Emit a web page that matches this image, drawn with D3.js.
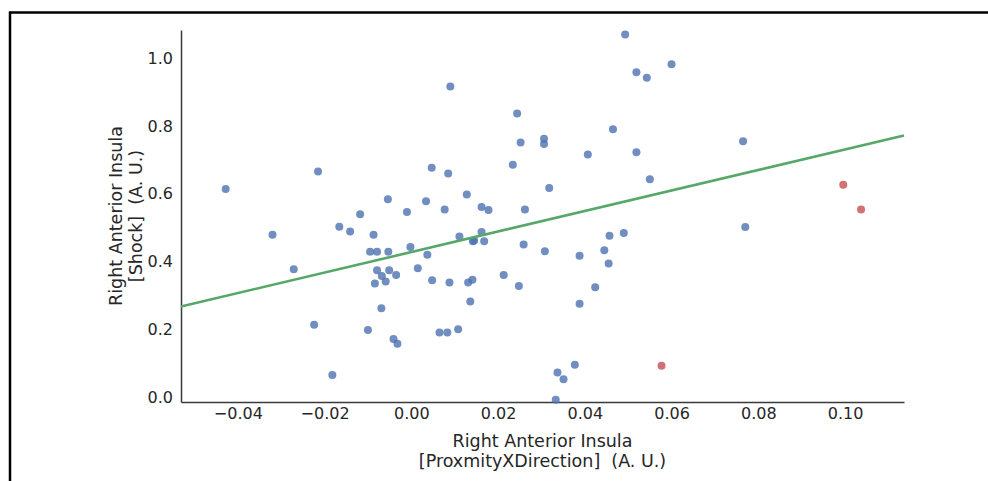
<!DOCTYPE html>
<html>
<head>
<meta charset="utf-8">
<script src="https://cdn.jsdelivr.net/npm/d3@7"></script>
<style>
  body { margin: 0; background: #fff; }
  svg { display: block; font-family: 'DejaVu Sans', sans-serif; }
  .label { white-space: pre; }
</style>
</head>
<body>
<div id="chart"></div>
<script>
// [x, y] pairs
var bluePoints = [
  [-0.0428, 0.614], [-0.0215, 0.666], [-0.0118, 0.540], [-0.0054, 0.584], [-0.0010, 0.546],
  [0.0493, 1.071], [0.0519, 0.959], [0.0543, 0.943], [0.0090, 0.917], [0.0244, 0.837],
  [0.0465, 0.791], [0.0252, 0.752], [0.0306, 0.763], [0.0306, 0.747], [0.0519, 0.723],
  [0.0407, 0.716], [0.0234, 0.686], [0.0047, 0.677], [0.0085, 0.660], [0.0550, 0.643],
  [0.0128, 0.598], [0.0318, 0.617], [0.0034, 0.578], [0.0077, 0.554], [0.0162, 0.561],
  [0.0178, 0.552], [0.0262, 0.554], [0.0600, 0.983], [0.0765, 0.755], [-0.0320, 0.479],
  [-0.0166, 0.503], [-0.0141, 0.489], [-0.0087, 0.479], [-0.0095, 0.429], [-0.0079, 0.429],
  [-0.0053, 0.429], [-0.0002, 0.443], [0.0015, 0.380], [-0.0271, 0.377], [-0.0079, 0.374],
  [-0.0051, 0.374], [-0.0068, 0.357], [-0.0035, 0.360], [-0.0059, 0.341], [-0.0084, 0.335],
  [-0.0069, 0.262], [-0.0224, 0.213], [-0.0100, 0.198], [-0.0041, 0.171], [-0.0032, 0.157],
  [-0.0182, 0.065], [0.0111, 0.474], [0.0162, 0.487], [0.0142, 0.460], [0.0145, 0.462],
  [0.0168, 0.460], [0.0259, 0.450], [0.0308, 0.430], [0.0388, 0.417], [0.0457, 0.476],
  [0.0490, 0.484], [0.0445, 0.433], [0.0455, 0.394], [0.0037, 0.420], [0.0048, 0.345],
  [0.0088, 0.338], [0.0131, 0.338], [0.0141, 0.346], [0.0213, 0.360], [0.0248, 0.328],
  [0.0424, 0.324], [0.0388, 0.275], [0.0136, 0.282], [0.0065, 0.190], [0.0083, 0.190],
  [0.0108, 0.200], [0.0377, 0.095], [0.0337, 0.072], [0.0351, 0.052], [0.0333, -0.008],
  [0.0770, 0.502]
];
var redPoints = [[0.0996, 0.627], [0.1037, 0.554], [0.0577, 0.092]];

// fitted line
var fitSlope = 3.03;
var fitIntercept = 0.428;

var xTicks = [-0.04, -0.02, 0.00, 0.02, 0.04, 0.06, 0.08, 0.10];
var yTicks = [0.0, 0.2, 0.4, 0.6, 0.8, 1.0];
var xDomain = [-0.0531, 0.1136];
var yDomain = [-0.015, 1.084];

var xLabel = ['Right Anterior Insula', '[ProxmityXDirection]  (A. U.)'];
var yLabel = ['Right Anterior Insula', '[Shock]  (A. U.)'];

var width = 988;
var height = 481;
var plot = { left: 181, right: 904, top: 30, bottom: 402 };
var textColor = '#262626';

var svg = d3
  .select('#chart')
  .append('svg')
  .attr('width', width)
  .attr('height', height);

// outer frame (only top and left edges show)
svg
  .append('rect')
  .attr('x', 10)
  .attr('y', 12.5)
  .attr('width', 1000)
  .attr('height', 500)
  .attr('fill', 'none')
  .attr('stroke', '#000')
  .attr('stroke-width', 2.5);

var x = d3.scaleLinear().domain(xDomain).range([plot.left, plot.right]);
var y = d3.scaleLinear().domain(yDomain).range([plot.bottom, plot.top]);

// axes, no tick marks
var xAxisGroup = svg
  .append('g')
  .attr('transform', 'translate(0,' + plot.bottom + ')')
  .call(d3.axisBottom(x).tickValues(xTicks).tickSize(0).tickPadding(6).tickFormat(d3.format('.2f')));
var yAxisGroup = svg
  .append('g')
  .attr('transform', 'translate(' + plot.left + ',0)')
  .call(d3.axisLeft(y).tickValues(yTicks).tickSize(0).tickPadding(8).tickFormat(d3.format('.1f')));

[xAxisGroup, yAxisGroup].forEach(function (g) {
  g.select('.domain').attr('stroke', '#3a3a3a').attr('stroke-width', 1.5);
  g.selectAll('text')
    .attr('fill', textColor)
    .style('font-size', '16px')
    .style('font-family', "'DejaVu Sans', sans-serif");
});

// points
svg
  .append('g')
  .selectAll('circle')
  .data(bluePoints)
  .enter()
  .append('circle')
  .attr('cx', d => x(d[0]))
  .attr('cy', d => y(d[1]))
  .attr('r', 4)
  .attr('fill', '#4c72b0')
  .attr('opacity', 0.8);

svg
  .append('g')
  .selectAll('circle')
  .data(redPoints)
  .enter()
  .append('circle')
  .attr('cx', d => x(d[0]))
  .attr('cy', d => y(d[1]))
  .attr('r', 4)
  .attr('fill', '#c44e52')
  .attr('opacity', 0.8);

// regression line across the full x range
svg
  .append('line')
  .attr('x1', x(xDomain[0]))
  .attr('y1', y(fitIntercept + fitSlope * xDomain[0]))
  .attr('x2', x(xDomain[1]))
  .attr('y2', y(fitIntercept + fitSlope * xDomain[1]))
  .attr('stroke', '#55a868')
  .attr('stroke-width', 2.6);

// axis labels
var cx = (plot.left + plot.right) / 2;
svg
  .append('g')
  .selectAll('text')
  .data(xLabel)
  .enter()
  .append('text')
  .attr('class', 'label')
  .attr('x', cx)
  .attr('y', (d, i) => 447 + i * 20)
  .attr('text-anchor', 'middle')
  .attr('fill', textColor)
  .style('font-size', '17.5px')
  .text(d => d);

var cy = (plot.top + plot.bottom) / 2;
svg
  .append('g')
  .selectAll('text')
  .data(yLabel)
  .enter()
  .append('text')
  .attr('class', 'label')
  .attr('transform', (d, i) => 'translate(' + (122 + i * 19.5) + ',' + cy + ') rotate(-90)')
  .attr('text-anchor', 'middle')
  .attr('fill', textColor)
  .style('font-size', '17.5px')
  .text(d => d);
</script>
</body>
</html>
